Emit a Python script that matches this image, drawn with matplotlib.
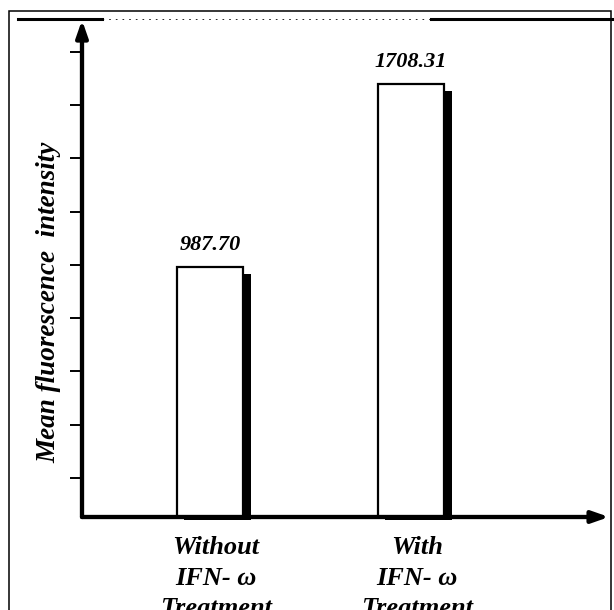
import matplotlib.pyplot as plt
from matplotlib.lines import Line2D
from matplotlib.patches import Rectangle
import numpy as np

# values
groups = ['Without\nIFN- ω\nTreatment', 'With\nIFN- ω\nTreatment']
values = [987.70, 1708.31]
value_labels = ['987.70', '1708.31']
tick_vals = np.arange(154, 1900, 210)  # unlabelled ticks on the y axis

plt.rcParams['font.family'] = ['Liberation Serif', 'DejaVu Serif']

fig = plt.figure(figsize=(6.14, 6.10), dpi=100)
ax = fig.add_axes([82/614, 1-517/610, (609-82)/614, (517-25)/610])

x = np.arange(len(values))
w = 0.333
# drop shadow behind each bar
ax.bar(x + 0.035, np.array(values) - 28 + 12, width=w, bottom=-12,
       color='black', zorder=1, clip_on=False)
ax.bar(x, values, width=w, color='white', edgecolor='black', linewidth=1.6, zorder=2)

for xi, v, lab in zip(x, values, value_labels):
    ax.text(xi, v + 45, lab, ha='center', va='bottom', fontsize=16,
            fontweight='bold', fontstyle='italic', zorder=3)

ax.set_xlim(-0.637, 1.985)
ax.set_ylim(0, 1940)

for s in ax.spines.values():
    s.set_visible(False)

# axes with arrow heads
ax.annotate('', xy=(0, 1.01), xytext=(0, 0), xycoords='axes fraction',
            arrowprops=dict(arrowstyle='-|>,head_length=1.0,head_width=0.35',
                            lw=3.1, color='black', shrinkA=0, shrinkB=0))
ax.annotate('', xy=(1, 0), xytext=(0, 0), xycoords='axes fraction',
            arrowprops=dict(arrowstyle='-|>,head_length=1.0,head_width=0.35',
                            lw=3.1, color='black', shrinkA=0, shrinkB=0))

ax.set_yticks(tick_vals)
ax.set_yticklabels([])
ax.tick_params(axis='y', direction='out', length=9, width=1.4, color='black')
ax.set_xticks(x + 0.03)
ax.set_xticklabels(groups, fontsize=19, fontweight='bold', fontstyle='italic',
                   linespacing=1.4)
ax.tick_params(axis='x', length=0, pad=14)
ax.set_ylabel('Mean fluorescence  intensity', fontsize=19.5, fontweight='bold',
              fontstyle='italic')
ax.yaxis.set_label_coords(-0.04, 0.437)

# scanned frame around the figure
fig.patches.append(Rectangle((9/614, -0.05), (611-9)/614, 1.05 - 11/610,
                             transform=fig.transFigure, fill=False,
                             edgecolor='black', linewidth=1.1))
fig.lines.append(Line2D([18/614, 102/614], [1-19/610]*2, transform=fig.transFigure,
                        color='black', linewidth=2.2))
fig.lines.append(Line2D([102/614, 431/614], [1-19/610]*2, transform=fig.transFigure,
                        color='black', linewidth=0.6, linestyle=(0, (2, 6))))
fig.lines.append(Line2D([431/614, 1.0], [1-19/610]*2, transform=fig.transFigure,
                        color='black', linewidth=2.2))

fig.savefig('out.png', dpi=100)
